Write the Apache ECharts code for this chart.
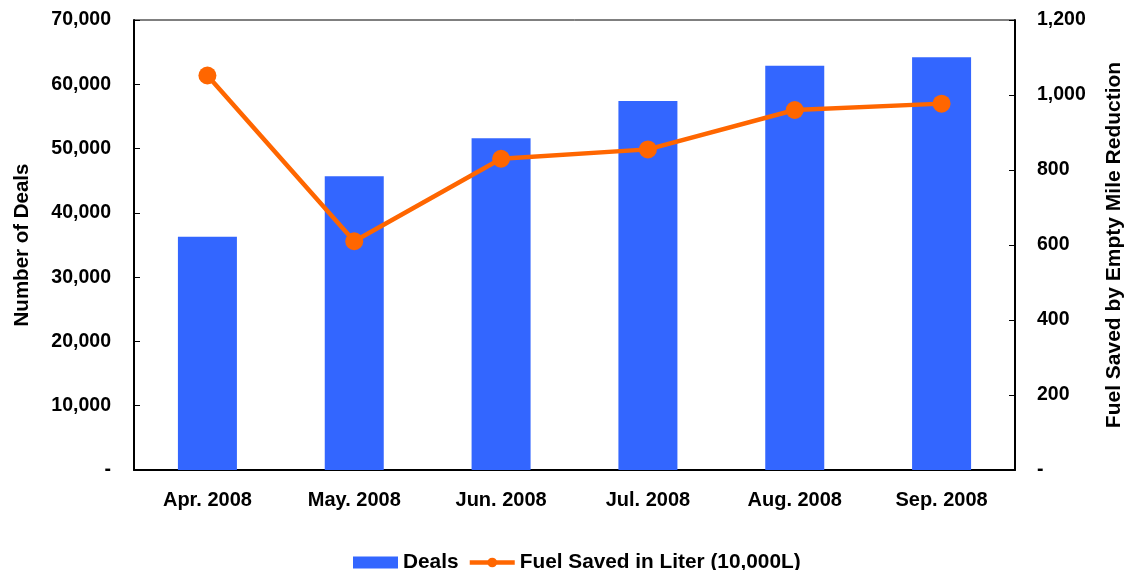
<!DOCTYPE html>
<html>
<head>
<meta charset="utf-8">
<script src="https://cdn.jsdelivr.net/npm/echarts@6/dist/echarts.min.js"></script>
<style>
  html, body { margin: 0; padding: 0; background: #fff; }
  #chart { width: 1127px; height: 570px; }
</style>
</head>
<body>
<div id="chart"></div>
<script>
// Monthly deals and fuel saved, Apr–Sep 2008
const months = ['Apr. 2008', 'May. 2008', 'Jun. 2008', 'Jul. 2008', 'Aug. 2008', 'Sep. 2008'];
const deals = [36300, 45700, 51600, 57400, 62900, 64200];
const fuelSaved = [1052, 610, 830, 855, 960, 977];

const fmt = v => v === 0 ? '-' : v.toLocaleString('en-US');
const font = 'Liberation Sans, Arial, sans-serif';
const txt = size => ({ color: '#000', fontWeight: 'bold', fontFamily: font, fontSize: size });

const chart = echarts.init(document.getElementById('chart'));
chart.setOption({
  animation: false,
  grid: {
    left: 134, right: 112, top: 20, bottom: 100,
    outerBoundsMode: 'none', containLabel: false,
    show: true, borderColor: '#000', borderWidth: 1
  },
  legend: {
    top: 547, left: 348, itemGap: 9, itemWidth: 45, itemHeight: 12,
    textStyle: txt(20.8),
    data: [
      { name: 'Deals', icon: 'rect' },
      { name: 'Fuel Saved in Liter (10,000L)', lineStyle: { width: 4.5 } }
    ]
  },
  xAxis: {
    type: 'category', data: months, boundaryGap: true,
    axisLine: { lineStyle: { color: '#000', width: 2 } },
    axisTick: { inside: true, length: 6, lineStyle: { color: '#000' } },
    axisLabel: Object.assign(txt(20), { margin: 20 })
  },
  yAxis: [
    {
      type: 'value', min: 0, max: 70000, interval: 10000,
      name: 'Number of Deals', nameLocation: 'middle', nameGap: 101, nameRotate: 90,
      nameTextStyle: txt(20.5),
      axisLine: { show: true, lineStyle: { color: '#000', width: 2 } },
      axisTick: { show: true, inside: true, length: 6, lineStyle: { color: '#000' } },
      splitLine: { show: false },
      axisLabel: Object.assign(txt(19.5), { margin: 23, formatter: fmt })
    },
    {
      type: 'value', min: 0, max: 1200, interval: 200, position: 'right',
      name: 'Fuel Saved by Empty Mile Reduction', nameLocation: 'middle', nameGap: 89, nameRotate: 90,
      nameTextStyle: txt(21),
      axisLine: { show: true, lineStyle: { color: '#000', width: 2 } },
      axisTick: { show: true, inside: true, length: 6, lineStyle: { color: '#000' } },
      splitLine: { show: false },
      axisLabel: Object.assign(txt(19.5), { margin: 22, formatter: fmt })
    }
  ],
  series: [
    {
      name: 'Deals', type: 'bar', data: deals, barWidth: 59,
      itemStyle: { color: '#3366FF' }
    },
    {
      name: 'Fuel Saved in Liter (10,000L)', type: 'line', yAxisIndex: 1, data: fuelSaved,
      symbol: 'circle', symbolSize: 18,
      lineStyle: { color: '#FF6600', width: 4.5 },
      itemStyle: { color: '#FF6600' }
    }
  ]
});
</script>
</body>
</html>
